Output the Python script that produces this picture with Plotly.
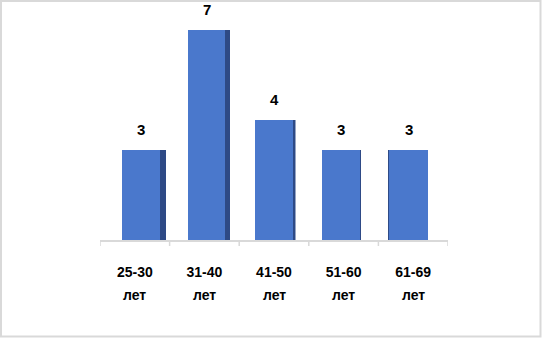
import plotly.graph_objects as go

categories = ["25-30", "31-40", "41-50", "51-60", "61-69"]
unit_label = "лет"
values = [3, 7, 4, 3, 3]

# styling / geometry (not data)
W, H = 542, 338
ML, MR, MT, MB = 100, 94, 0, 98
plot_w = W - ML - MR
plot_h = H - MT - MB
px_per_unit = plot_w / len(categories)

front_color = "#4A78CC"
side_color = "#2E4A86"
front_left_px = [-12.8, -16.4, -19.0, -21.6, -24.2]
front_width_px = [38, 37, 38, 38, 39]
side_width_px = [6, 5, 2.5, 0.01, 2]
side_left_of_front = [False, False, False, False, True]

x_idx = list(range(len(categories)))
front_offset = [p / px_per_unit for p in front_left_px]
front_width = [w / px_per_unit for w in front_width_px]
side_offset = []
for i in x_idx:
    if side_left_of_front[i]:
        side_offset.append(front_offset[i] - side_width_px[i] / px_per_unit * 0.5)
    else:
        side_offset.append(front_offset[i] + front_width[i])
side_width = [w / px_per_unit for w in side_width_px]

fig = go.Figure()
fig.add_trace(go.Bar(
    x=x_idx, y=values, offset=side_offset, width=side_width,
    marker=dict(color=side_color, line=dict(width=0)),
    hoverinfo="skip", showlegend=False,
))
fig.add_trace(go.Bar(
    x=x_idx, y=values, offset=front_offset, width=front_width,
    marker=dict(color=front_color, line=dict(width=0)),
    showlegend=False,
))

annotations = []
for i, v in enumerate(values):
    annotations.append(dict(
        x=i + (front_offset[i] + front_width[i] / 2), y=v, xref="x", yref="y",
        text=f"<b>{v}</b>", showarrow=False, yanchor="bottom", yshift=10,
        font=dict(family="Liberation Sans, Arial", size=15, color="black"),
    ))
    annotations.append(dict(
        x=i, y=0, xref="x", yref="paper",
        text=f"<b>{unit_label}</b>", showarrow=False, yanchor="middle", yshift=-55,
        font=dict(family="Liberation Sans, Arial", size=14, color="black"),
    ))

fig.update_layout(
    width=W, height=H,
    margin=dict(l=ML, r=MR, t=MT, b=MB),
    barmode="overlay",
    plot_bgcolor="white", paper_bgcolor="white",
    annotations=annotations,
    xaxis=dict(
        range=[-0.5, len(categories) - 0.5],
        tickmode="array", tickvals=x_idx,
        ticktext=[f"<b>{c}</b>" for c in categories],
        showline=True, linecolor="#D9D9D9", linewidth=1.5,
        ticks="outside", ticklen=6, tickcolor="#D9D9D9", tickwidth=1.5,
        showgrid=False, zeroline=False,
        tickfont=dict(family="Liberation Sans, Arial", size=14, color="black"),
        ticklabelstandoff=18,
    ),
    yaxis=dict(range=[0, 8], visible=False, showgrid=False, zeroline=False),
    shapes=[
        # minor ticks at category boundaries
        *[dict(type="line", xref="x", yref="paper", x0=b - 0.5, x1=b - 0.5,
               y0=0, y1=-6 / plot_h, line=dict(color="#D9D9D9", width=1.5))
          for b in range(len(categories) + 1)],
        dict(type="rect", xref="paper", yref="paper",
             x0=(1 - ML) / plot_w, x1=(W - 1.5 - ML) / plot_w,
             y0=(plot_h - (H - 1.5)) / plot_h, y1=(plot_h - 1) / plot_h,
             line=dict(color="#D9D9D9", width=2), fillcolor="rgba(0,0,0,0)", layer="above"),
    ],
)
fig.update_xaxes(ticks="")
fig.write_html("out.html")
